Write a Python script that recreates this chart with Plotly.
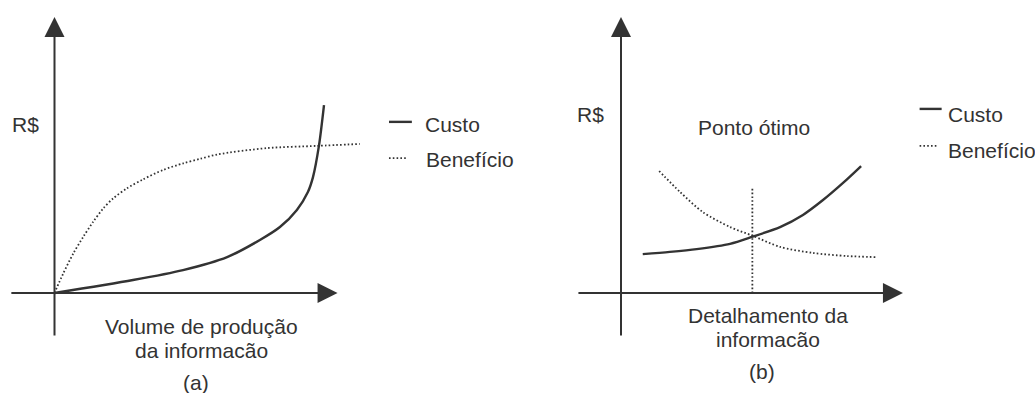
import plotly.graph_objects as go

# panel (a): volume de produção da informação
a_custo_x = [0, 2.78, 4.55, 6.11, 7.27, 7.98, 8.58, 8.97, 9.15, 9.36, 9.54]
a_custo_y = [0, 0.47, 0.83, 1.30, 1.92, 2.39, 3.01, 3.66, 4.20, 5.33, 6.81]
a_benef_x = [0, 0.31, 0.67, 1.02, 1.37, 1.73, 2.08, 2.56, 3.14, 3.85, 4.56, 5.15, 5.77, 7.52, 9.29, 10.81]
a_benef_y = [0, 0.71, 1.44, 2.04, 2.58, 3.07, 3.43, 3.79, 4.12, 4.46, 4.70, 4.86, 5.02, 5.25, 5.33, 5.40]

# panel (b): detalhamento da informação
b_custo_x = [0.77, 1.73, 2.68, 3.86, 4.66, 5.63, 6.44, 7.15, 7.86, 8.50]
b_custo_y = [1.41, 1.49, 1.59, 1.78, 2.04, 2.39, 2.83, 3.37, 3.99, 4.60]
b_benef_x = [1.35, 2.09, 2.90, 3.86, 4.67, 5.63, 6.80, 8.00, 9.03]
b_benef_y = [4.42, 3.66, 2.93, 2.39, 2.07, 1.67, 1.45, 1.34, 1.30]
b_otimo_x = [4.65, 4.65]
b_otimo_y = [0, 3.80]

legend_labels = ["Custo", "Benefício"]

W, H = 1035, 393
PX_X, PX_Y = 28.25, 27.6   # pixels per unit
ORIG_Y = 293               # origin row (px from top)
ORIG_AX, ORIG_BX = 54.5, 621

INK = "#333333"
FONT = dict(family="Liberation Sans, Arial, sans-serif", size=21, color=INK)
DOT = "1.6px,2.2px"

fig = go.Figure()

def curve(x, y, xa, ya, dotted=False):
    fig.add_trace(go.Scatter(
        x=x, y=y, xaxis=xa, yaxis=ya, mode="lines",
        line=dict(color=INK, width=1.8 if dotted else 2.4,
                  dash=DOT if dotted else "solid", shape="spline", smoothing=0.8),
        showlegend=False, hoverinfo="skip"))

curve(a_custo_x, a_custo_y, "x", "y")
curve(a_benef_x, a_benef_y, "x", "y", dotted=True)
curve(b_custo_x, b_custo_y, "x2", "y2")
curve(b_benef_x, b_benef_y, "x2", "y2", dotted=True)
fig.add_trace(go.Scatter(x=b_otimo_x, y=b_otimo_y, xaxis="x2", yaxis="y2", mode="lines",
                         line=dict(color=INK, width=1.8, dash=DOT),
                         showlegend=False, hoverinfo="skip"))

annotations = []
shapes = []

def arrow(xr, yr, x, y, ax, ay):
    annotations.append(dict(xref=xr, yref=yr, axref=xr, ayref=yr, x=x, y=y, ax=ax, ay=ay,
                            text="", showarrow=True, arrowhead=2, arrowsize=2,
                            arrowwidth=2, arrowcolor=INK))

def label(xr, yr, x, y, text, xanchor="center"):
    annotations.append(dict(xref=xr, yref=yr, x=x, y=y, text=text, showarrow=False,
                            xanchor=xanchor, yanchor="middle", font=FONT))

def sample(xr, yr, x0, x1, y, dotted):
    shapes.append(dict(type="line", xref=xr, yref=yr, x0=x0, x1=x1, y0=y, y1=y,
                       line=dict(color=INK, width=1.8 if dotted else 2.4,
                                 dash=DOT if dotted else "solid")))

# axes with arrows
arrow("x", "y", 0, 10.0, 0, -1.59)
arrow("x", "y", 10.02, 0, -1.58, 0)
arrow("x2", "y2", 0, 10.0, 0, -1.59)
arrow("x2", "y2", 9.98, 0, -1.56, 0)

# panel (a) texts
label("x", "y", -1.58, 6.12, "R$", "left")
sample("x", "y", 11.84, 12.65, 6.20, False)
label("x", "y", 13.04, 6.09, legend_labels[0], "left")
sample("x", "y", 11.84, 12.51, 4.89, True)
label("x", "y", 13.08, 4.82, legend_labels[1], "left")
label("x", "y", 5.22, -1.23, "Volume de produção")
label("x", "y", 5.22, -2.07, "da informacão")
label("x", "y", 5.01, -3.26, "(a)")

# panel (b) texts
label("x2", "y2", -1.63, 6.45, "R$", "left")
label("x2", "y2", 4.71, 6.01, "Ponto ótimo")
sample("x2", "y2", 10.57, 11.35, 6.67, False)
label("x2", "y2", 11.50, 6.45, legend_labels[0], "left")
sample("x2", "y2", 10.57, 11.19, 5.33, True)
label("x2", "y2", 11.50, 5.18, legend_labels[1], "left")
label("x2", "y2", 5.20, -0.83, "Detalhamento da")
label("x2", "y2", 5.20, -1.70, "informacão")
label("x2", "y2", 4.99, -2.86, "(b)")

half = W / 2
hidden = dict(visible=False, showgrid=False, zeroline=False, fixedrange=True)
fig.update_layout(
    width=W, height=H,
    margin=dict(l=0, r=0, t=0, b=0),
    paper_bgcolor="white", plot_bgcolor="white",
    xaxis=dict(hidden, domain=[0, 0.5],
               range=[-ORIG_AX / PX_X, (half - ORIG_AX) / PX_X]),
    yaxis=dict(hidden, domain=[0, 1],
               range=[-(H - ORIG_Y) / PX_Y, ORIG_Y / PX_Y]),
    xaxis2=dict(hidden, domain=[0.5, 1],
                range=[-(ORIG_BX - half) / PX_X, (W - ORIG_BX) / PX_X]),
    yaxis2=dict(hidden, domain=[0, 1], anchor="x2",
                range=[-(H - ORIG_Y) / PX_Y, ORIG_Y / PX_Y]),
    annotations=annotations,
    shapes=shapes,
)

fig.write_html("out.html", config={"displayModeBar": False},
               post_script="document.body.style.margin='0';document.body.style.overflow='hidden';")
